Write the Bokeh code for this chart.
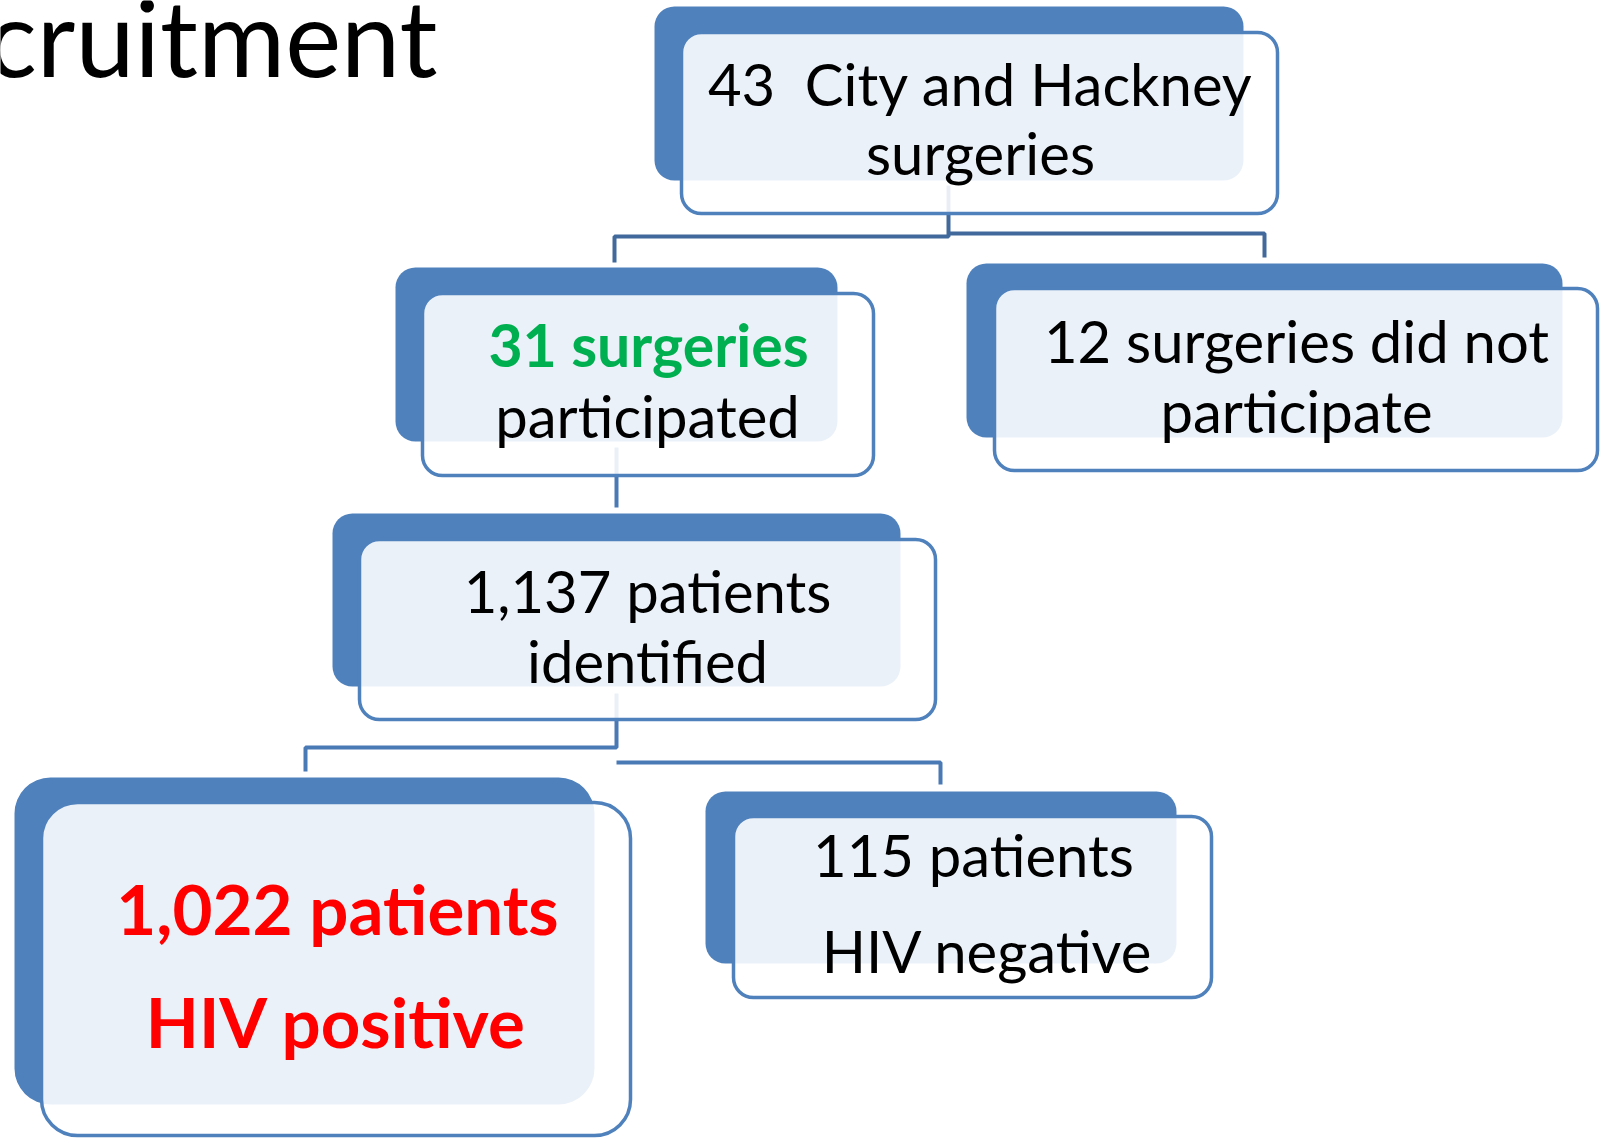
from bokeh.plotting import figure
from bokeh.models import Range1d
from bokeh.embed import file_html
from bokeh.resources import INLINE
from bokeh.core.properties import value

# ---- data (texts of the flow chart) ----
title_text = "Recruitment"
line1 = ["43\u00a0 City and Hackney", "31 surgeries", "12 surgeries did not",
         "1,137 patients", "1,022 patients", "115 patients"]
line2 = ["surgeries", "participated", "participate",
         "identified", "HIV positive", "HIV negative"]
line1_color = ["black", "#00B050", "black", "black", "#FF0000", "black"]
line2_color = ["black", "black", "black", "black", "#FF0000", "black"]
line1_bold = [False, True, False, False, True, False]
line2_bold = [False, False, False, False, True, False]

# ---- layout (pixel geometry of the reference) ----
W, H = 1602, 1138
back_l = [654, 395, 966, 332, 14, 705]
back_r = [1243, 837, 1562, 900, 594, 1176]
back_t = [6, 267, 263, 513, 777, 791]
back_b = [180, 441, 437, 686, 1104, 963]
front_l = [681, 422, 994, 359, 41, 733]
front_r = [1277, 873, 1597, 935, 630, 1211]
front_t = [32, 293, 288, 539, 802, 816]
front_b = [213, 475, 470, 719, 1135, 997]
radius = [20, 20, 20, 20, 36, 20]
cx1 = [980, 648, 1296, 647, 337, 973]
cx2 = [980, 647, 1296, 647, 336, 987]
base1 = [106, 367, 363, 613, 935, 877]
base2 = [175, 438, 433, 683, 1048, 973]
size1 = [58, 59, 58, 58, 69, 58]
size2 = [58, 58, 58, 58, 69, 58]
title_size = 106
BASE_SHIFT = 0.39   # renderer places the alphabetic baseline lower; compensate

conn_top_x = [[948, 948, 614, 614], [948, 1264, 1264]]
conn_top_y = [[185, 236, 236, 262], [233, 233, 257]]
conn_low_x = [[616, 616], [616, 616, 305, 305], [616, 940, 940]]
conn_low_y = [[447, 507], [693, 747, 747, 771], [762, 762, 784]]

BLUE = "#4F81BD"
FONT = "Lato"

p = figure(width=W, height=H, output_backend="svg", toolbar_location=None,
           x_range=Range1d(0, W), y_range=Range1d(H, 0),
           min_border=0, x_axis_type=None, y_axis_type=None)
p.grid.visible = False
p.outline_line_color = None
p.background_fill_color = "white"
p.border_fill_color = "white"

# back (dark) boxes
for i in range(len(line1)):
    p.quad(left=back_l[i], right=back_r[i], top=back_t[i], bottom=back_b[i],
           fill_color=BLUE, line_color=None, border_radius=radius[i])

# connectors
p.multi_line(conn_top_x, conn_top_y, line_color="#41699B", line_width=4)
p.multi_line(conn_low_x, conn_low_y, line_color="#4A7AB5", line_width=4)

# front (light) boxes
for i in range(len(line1)):
    p.quad(left=front_l[i], right=front_r[i], top=front_t[i], bottom=front_b[i],
           fill_color="white", fill_alpha=0.89, line_color=BLUE, line_width=3.5,
           border_radius=radius[i])

# texts
for i in range(len(line1)):
    p.text(x=[cx1[i]], y=[base1[i] - BASE_SHIFT * size1[i]], text=[line1[i]],
           text_align="center", text_baseline="alphabetic", text_font=value(FONT),
           text_font_size=f"{size1[i]}px", text_color=line1_color[i],
           text_font_style="bold" if line1_bold[i] else "normal")
    p.text(x=[cx2[i]], y=[base2[i] - BASE_SHIFT * size2[i]], text=[line2[i]],
           text_align="center", text_baseline="alphabetic", text_font=value(FONT),
           text_font_size=f"{size2[i]}px", text_color=line2_color[i],
           text_font_style="bold" if line2_bold[i] else "normal")

# slide title, cut by the left edge as in the reference
p.text(x=[437], y=[77 - BASE_SHIFT * title_size], text=[title_text], text_align="right",
       text_baseline="alphabetic", text_font=value(FONT),
       text_font_size=f"{title_size}px", text_color="black")

open("out.html", "w").write(file_html(p, INLINE))
